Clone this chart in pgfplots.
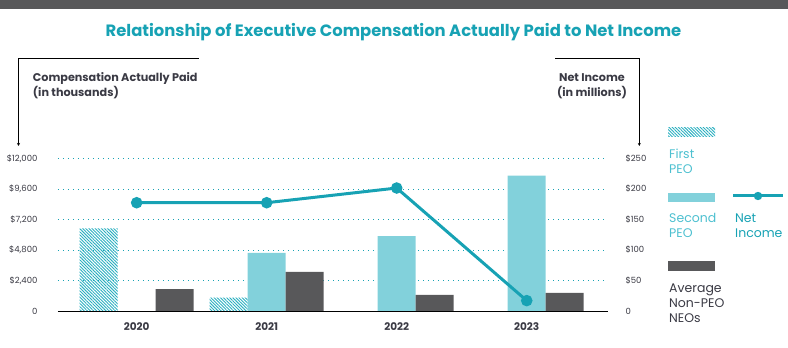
\documentclass[border=0pt]{standalone}
\usepackage{pgfplots}
\pgfplotsset{compat=1.18}
\usepackage{fontspec}
\setmainfont{Poppins}
\usetikzlibrary{patterns.meta,arrows.meta}
\definecolor{band}{HTML}{58585A}
\definecolor{teal1}{HTML}{17A2B4}
\definecolor{tealH}{HTML}{2AAFC0}
\definecolor{tealL}{HTML}{82D1DB}
\definecolor{tealT}{HTML}{4DC0D0}
\definecolor{dgray}{HTML}{58585A}
\definecolor{txt}{HTML}{3A3A44}
\begin{document}
\begin{tikzpicture}[x=1pt,y=1pt]
\path[use as bounding box] (0,0) rectangle (788,348);
\fill[band] (0,339) rectangle (788,348);
\node[font=\fontsize{16.4}{19}\selectfont\bfseries, text=teal1] at (393.5,315.5) {Relationship of Executive Compensation Actually Paid to Net Income};
% arrows
\draw[black, line width=0.8pt, -{Stealth[length=3pt,width=3pt]}] (198.5,289.5) -- (18.5,289.5) -- (18.5,202);
\draw[black, line width=0.8pt, -{Stealth[length=3pt,width=3pt]}] (555,289.5) -- (639.3,289.5) -- (639.3,202);
% axis titles
\begin{scope}[every node/.style={font=\fontsize{11.2}{15}\selectfont\bfseries, text=txt, inner sep=0pt}]
\node[anchor=base west] at (32.7,266) {Compensation Actually Paid};
\node[anchor=base west] at (32.7,251) {(in thousands)};
\node[anchor=base] at (592,266) {Net Income};
\node[anchor=base] at (592,251) {(in millions)};
\end{scope}
% legend
\fill[pattern={Lines[angle=-45,distance=2.2pt,line width=0.9pt]}, pattern color=tealH] (668,211) rectangle (715,220);
\fill[tealL] (668,146) rectangle (715,155);
\fill[dgray] (668,77) rectangle (715,87);
\draw[teal1, line width=3pt] (733,152) -- (783,152);
\fill[teal1] (758,152) circle (4.2);
\begin{scope}[every node/.style={font=\fontsize{12.5}{15}\selectfont, inner sep=0pt, anchor=base west}]
\node[text=tealT] at (669,189.5) {First};
\node[text=tealT] at (669,174.5) {PEO};
\node[text=tealT] at (669,125.5) {Second};
\node[text=tealT] at (669,110.5) {PEO};
\node[text=teal1] at (735,125.5) {Net};
\node[text=teal1] at (735,110.5) {Income};
\node[text=txt] at (669,55.5) {Average};
\node[text=txt] at (669,40.5) {Non-PEO};
\node[text=txt] at (669,25.5) {NEOs};
\end{scope}
\begin{axis}[at={(58pt,37pt)}, anchor=south west, width=550pt, height=152.5pt, scale only axis,
  xmin=-0.605, xmax=3.625, ymin=0, ymax=12000,
  axis x line*=bottom, axis y line*=left,
  y axis line style={draw=none},
  x axis line style={black, line width=0.8pt, -},
  major tick length=0pt,
  scaled y ticks=false,
  ymajorgrids, grid style={teal1, line width=0.9pt, dash pattern=on 1.1pt off 3.9pt},
  xtick={0,1,2,3}, xticklabels={2020,2021,2022,2023},
  xticklabel style={font=\fontsize{10.5}{12}\selectfont\bfseries, text=txt, yshift=-8pt},
  ytick={0,2400,4800,7200,9600,12000},
  yticklabels={0,{\$2,400},{\$4,800},{\$7,200},{\$9,600},{\$12,000}},
  yticklabel style={font=\fontsize{8.5}{10}\selectfont, text=txt, anchor=east, xshift=-17pt},
  clip=false]
\addplot[ybar, bar width=38pt, bar shift=-38pt, draw=none, pattern={Lines[angle=-45,distance=2.2pt,line width=0.9pt]}, pattern color=tealH] coordinates {(0,6500) (1,1050)};
\addplot[ybar, bar width=38pt, bar shift=0pt, draw=none, fill=tealL] coordinates {(1,4570) (2,5900) (3,10650)};
\addplot[ybar, bar width=38pt, bar shift=38pt, draw=none, fill=dgray] coordinates {(0,1730) (1,3070) (2,1260) (3,1420)};
\end{axis}
\begin{axis}[at={(58pt,37pt)}, anchor=south west, width=550pt, height=152.5pt, scale only axis,
  xmin=-0.605, xmax=3.625, ymin=0, ymax=250,
  axis x line=none, axis y line*=right,
  y axis line style={draw=none},
  major tick length=0pt,
  scaled y ticks=false,
  ytick={0,50,100,150,200,250},
  yticklabels={0,\$50,\$100,\$150,\$200,\$250},
  yticklabel style={font=\fontsize{8.5}{10}\selectfont, text=txt, anchor=west, xshift=14pt},
  clip=false]
\addplot[teal1, line width=3pt, mark=*, mark size=4.2pt] coordinates {(0,177.5) (1,177.5) (2,201.6) (3,17)};
\end{axis}
\end{tikzpicture}
\end{document}
